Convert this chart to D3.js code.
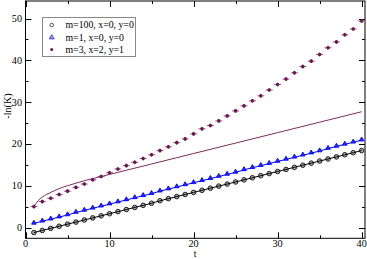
<!DOCTYPE html>
<html>
<head>
<meta charset="utf-8">
<script src="https://cdn.jsdelivr.net/npm/d3@7"></script>
<style>
  body { margin: 0; background: #fff; }
  svg { display: block; }
  text { font-family: "Liberation Serif", "DejaVu Serif", serif; }
</style>
</head>
<body>
<div id="chart"></div>
<script>
// data
let tVals = d3.range(1, 41);
let black = [-1.2, -0.7, -0.2, 0.3, 0.8, 1.3, 1.8, 2.3, 2.8, 3.3,
             3.8, 4.3, 4.8, 5.3, 5.8, 6.4, 6.9, 7.4, 7.9, 8.4,
             8.9, 9.4, 9.9, 10.4, 10.9, 11.4, 11.9, 12.4, 12.9, 13.4,
             13.9, 14.4, 14.9, 15.4, 15.9, 16.4, 16.9, 17.4, 17.9, 18.4];
let blue = [1.0, 1.5, 2.0, 2.5, 3.0, 3.6, 4.1, 4.6, 5.1, 5.6,
            6.1, 6.6, 7.1, 7.6, 8.1, 8.7, 9.2, 9.7, 10.2, 10.7,
            11.2, 11.7, 12.2, 12.7, 13.2, 13.8, 14.3, 14.8, 15.3, 15.8,
            16.3, 16.8, 17.3, 17.8, 18.3, 18.9, 19.4, 19.9, 20.4, 20.9];
let purple = [5.0, 6.2, 7.0, 7.9, 8.7, 9.6, 10.4, 11.4, 12.2, 13.1,
              14.0, 14.8, 15.6, 16.5, 17.4, 18.4, 19.3, 20.3, 21.2, 22.4,
              23.6, 24.4, 25.5, 26.7, 27.9, 29.1, 30.3, 31.5, 32.9, 34.2,
              35.5, 37.0, 38.5, 39.8, 41.4, 43.0, 44.4, 46.1, 47.5, 49.4];
// purple curve (no symbols)
let curveT = [1, 1.5, 2, 2.5, 3, 4, 5, 6, 7, 8, 9, 10, 12, 15, 20, 25, 30, 35, 40];
let curveY = [5.0, 6.4, 7.3, 7.9, 8.4, 9.3, 10.0, 10.6, 11.2, 11.7, 12.2, 12.7, 13.7, 15.2, 17.7, 20.2, 22.7, 25.2, 27.7];

let legendLabels = ["m=100, x=0, y=0", "m=1, x=0, y=0", "m=3, x=2, y=1"];
let xTicks = [0, 10, 20, 30, 40];
let yTicks = [0, 10, 20, 30, 40, 50];

let width = 367, height = 259;
let plotLeft = 25.5, plotRight = 365, plotTop = 1, plotBottom = 238.3;

let svg = d3.select("#chart").append("svg").attr("width", width).attr("height", height);

let xScale = d3.scaleLinear().domain([0, 40.4]).range([plotLeft, plotRight]);
let yScale = d3.scaleLinear().domain([-2.58, 54.19]).range([plotBottom, plotTop]);

let purpleCol = "#6b1650";

// frame
svg.append("rect").attr("x", plotLeft).attr("y", plotTop).attr("width", plotRight - plotLeft).attr("height", plotBottom - plotTop)
    .attr("fill", "none").attr("stroke", "#000").attr("stroke-width", 1);

// ticks, inward on all sides
let xMinor = d3.range(0, 41, 5), yMinor = d3.range(0, 55, 5);
let tickG = svg.append("g").attr("stroke", "#000").attr("stroke-width", 1);
xMinor.forEach(function(v) {
    let len = v % 10 == 0 ? 6 : 3;
    let px = Math.round(xScale(v)) + 0.5;
    tickG.append("line").attr("x1", px).attr("x2", px).attr("y1", plotBottom).attr("y2", plotBottom - len);
    tickG.append("line").attr("x1", px).attr("x2", px).attr("y1", plotTop).attr("y2", plotTop + len);
});
yMinor.forEach(function(v) {
    let len = v % 10 == 0 ? 6 : 3;
    let py = Math.round(yScale(v)) + 0.5;
    tickG.append("line").attr("x1", plotLeft).attr("x2", plotLeft + len).attr("y1", py).attr("y2", py);
    tickG.append("line").attr("x1", plotRight).attr("x2", plotRight - len).attr("y1", py).attr("y2", py);
});

// tick labels
svg.selectAll(".xlab").data(xTicks).enter().append("text")
    .attr("x", d => xScale(d)).attr("y", 247).attr("text-anchor", "middle")
    .attr("font-size", "10.2px").text(d => d);
svg.selectAll(".ylab").data(yTicks).enter().append("text")
    .attr("x", 22).attr("y", d => yScale(d) + 3.5).attr("text-anchor", "end")
    .attr("font-size", "10.2px").text(d => d);

// axis titles
svg.append("text").attr("x", 195).attr("y", 257.4).attr("text-anchor", "middle")
    .attr("font-size", "9.5px").text("t");
svg.append("text").attr("transform", "translate(10.5,106) rotate(-90)").attr("text-anchor", "middle")
    .attr("font-size", "10.2px").text("-ln(K)");

let line = d3.line().x(d => xScale(d[0])).y(d => yScale(d[1]));

// purple curve
svg.append("path").datum(curveT.map((t, i) => [t, curveY[i]]))
    .attr("d", line.curve(d3.curveMonotoneX)).attr("fill", "none")
    .attr("stroke", "#7e2a62").attr("stroke-width", 1);
line.curve(d3.curveLinear);

// black series
svg.selectAll(".bc").data(black).enter().append("circle")
    .attr("cx", (d, i) => xScale(tVals[i])).attr("cy", d => yScale(d)).attr("r", 2.3)
    .attr("fill", "#aaa").attr("stroke", "#222").attr("stroke-width", 1);
svg.append("path").datum(tVals.map((t, i) => [t, black[i]]))
    .attr("d", line).attr("fill", "none").attr("stroke", "#000").attr("stroke-width", 1);

// blue series
svg.append("path").datum(tVals.map((t, i) => [t, blue[i]]))
    .attr("d", line).attr("fill", "none").attr("stroke", "#0000ff").attr("stroke-width", 1);
let tri = d3.symbol().type(d3.symbolTriangle).size(9);
svg.selectAll(".bt").data(blue).enter().append("path")
    .attr("d", tri).attr("transform", (d, i) => `translate(${xScale(tVals[i])},${yScale(d) - 0.5})`)
    .attr("fill", "#2a2aff").attr("stroke", "#0000ff").attr("stroke-width", 0.9);

// purple symbols
let pg = svg.selectAll(".pp").data(purple).enter().append("g")
    .attr("transform", (d, i) => `translate(${xScale(tVals[i])},${yScale(d)})`);
pg.append("line").attr("x1", -3.5).attr("x2", 3.5).attr("y1", 0).attr("y2", 0)
    .attr("stroke", "#9a5a88").attr("stroke-width", 1);
pg.append("line").attr("x1", 0).attr("x2", 0).attr("y1", -2).attr("y2", 2)
    .attr("stroke", "#9a5a88").attr("stroke-width", 1);
pg.append("circle").attr("r", 1.8).attr("fill", purpleCol);

// legend
let lg = svg.append("g");
lg.append("rect").attr("x", 42.5).attr("y", 17.5).attr("width", 93).attr("height", 39)
    .attr("fill", "#fff").attr("stroke", "#888").attr("stroke-width", 1);
let rowY = [25, 37.5, 49.5];
lg.append("circle").attr("cx", 51.7).attr("cy", rowY[0]).attr("r", 1.8)
    .attr("fill", "none").attr("stroke", "#333").attr("stroke-width", 0.8);
lg.append("path").attr("d", d3.symbol().type(d3.symbolTriangle).size(10))
    .attr("transform", `translate(51.7,${rowY[1]})`)
    .attr("fill", "#aaaaff").attr("stroke", "#0000ff").attr("stroke-width", 0.7);
lg.append("circle").attr("cx", 51.7).attr("cy", rowY[2]).attr("r", 1.5).attr("fill", purpleCol);
lg.selectAll(".lt").data(legendLabels).enter().append("text")
    .attr("x", 65.5).attr("y", (d, i) => rowY[i] + 3.3)
    .attr("font-size", "9.8px").text(d => d);
</script>
</body>
</html>
